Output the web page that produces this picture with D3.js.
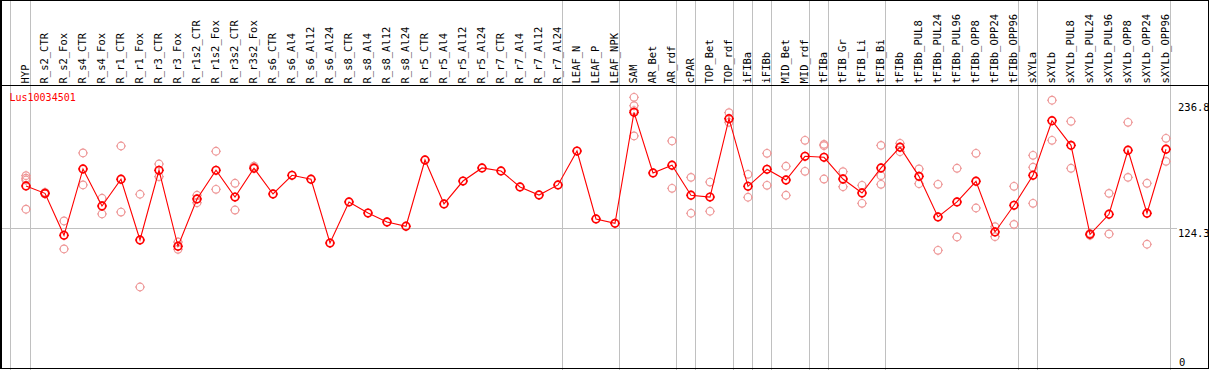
<!DOCTYPE html>
<html>
<head>
<meta charset="utf-8">
<script src="https://cdn.jsdelivr.net/npm/d3@7"></script>
<style>
  html, body { margin: 0; padding: 0; background: #fff; }
  svg { display: block; }
</style>
</head>
<body>
<svg id="chart" width="1209" height="370"></svg>
<script>
// ---------- data ----------
const geneName = "Lus10034501";

const categories = [
  "HYP","R_s2_CTR","R_s2_Fox","R_s4_CTR","R_s4_Fox","R_r1_CTR","R_r1_Fox","R_r3_CTR","R_r3_Fox",
  "R_r1s2_CTR","R_r1s2_Fox","R_r3s2_CTR","R_r3s2_Fox","R_s6_CTR","R_s6_Al4","R_s6_Al12","R_s6_Al24",
  "R_s8_CTR","R_s8_Al4","R_s8_Al12","R_s8_Al24","R_r5_CTR","R_r5_Al4","R_r5_Al12","R_r5_Al24",
  "R_r7_CTR","R_r7_Al4","R_r7_Al12","R_r7_Al24","LEAF_N","LEAF_P","LEAF_NPK","SAM","AR_Bet","AR_rdf",
  "cPAR","TOP_Bet","TOP_rdf","iFIBa","iFIBb","MID_Bet","MID_rdf","tFIBa","tFIB_Gr","tFIB_Li","tFIB_Bi",
  "tFIBb","tFIBb_PUL8","tFIBb_PUL24","tFIBb_PUL96","tFIBb_OPP8","tFIBb_OPP24","tFIBb_OPP96",
  "sXYLa","sXYLb","sXYLb_PUL8","sXYLb_PUL24","sXYLb_PUL96","sXYLb_OPP8","sXYLb_OPP24","sXYLb_OPP96"
];

const meanValues = [
  161.6,155.0,117.5,176.8,143.7,167.6,113.3,175.6,107.7,
  150.0,175.6,151.7,177.4,154.4,171.1,167.6,110.6,
  147.3,137.4,129.4,125.6,184.8,145.5,166.0,177.7,
  175.0,160.7,153.5,162.5,192.8,132.1,128.2,227.4,173.2,180.1,
  153.3,151.7,221.7,161.3,176.5,166.9,188.1,187.2,167.8,155.3,177.7,
  196.2,170.2,133.9,147.3,165.8,120.5,144.3,
  171.1,219.9,197.9,118.4,136.3,193.5,137.2,194.4
];

const replicateValues = [
  [170.8,168.5,166.9,140.8],[155.9,154.4],[130.3,105.3],[191.1,162.5],[150.6,136.6],[197.3,138.3],[154.2,71.3],[181.2,169.9],[111.5,105.0],
  [153.3,146.6],[192.6,158.6],[164.0,140.1],[179.4,178.3],[],[],[],[],
  [],[],[],[],[],[],[],[],
  [],[],[],[],[],[],[],[240.8,233.3,229.0,206.3],[],[201.8,159.5],
  [169.3,137.2],[165.1,139.0],[227.1,218.5],[172.0,151.5],[190.8,162.2],[179.2,153.3],[202.4,174.7],[198.8,197.6,167.8],[174.4,160.9],[162.2,146.1],[197.9,170.8,163.1],
  [199.7,192.2],[176.8,163.6],[163.1,104.1],[177.4,116.0],[190.8,141.9],[125.2,116.3],[161.3,127.3],
  [189.0,178.3,146.1],[238.2,202.4],[219.4,177.4],[119.3,117.5],[155.0,118.7],[218.5,169.3],[164.0,109.5],[204.2,183.6]
];

const groupEnds = ["HYP","R_r7_Al24","LEAF_NPK","AR_rdf","cPAR","TOP_rdf","iFIBa","iFIBb",
                   "MID_rdf","tFIBa","tFIB_Bi","tFIBb_OPP96","sXYLa","sXYLb_OPP96"];

const tickValues = [236.8, 124.3, 0];
const tickLabels = ["236.8", "124.3", "0"];
const gridValue = 124.3;

// ---------- layout ----------
const W = 1209, H = 370;
const headerY = 85.5;
const FONT = "'DejaVu Sans Mono', monospace";
const meanColor = "#ff0000";
const repColor = "#ee9898";
const gridColor = "#c0c0c0";

const svg = d3.select("#chart");

const x = d3.scalePoint().domain(categories).range([26, 26 + 19 * (categories.length - 1)]);
const y = d3.scaleLinear().domain([0, 236.8]).range([366.8, 101.8]);

// vertical separators
const sepXs = [x(categories[0]) - 15.5].concat(groupEnds.map(c => x(c) + 4.5));
svg.append("g").selectAll("line").data(sepXs).join("line")
  .attr("x1", d => d).attr("x2", d => d)
  .attr("y1", 0).attr("y2", H)
  .attr("stroke", gridColor).attr("stroke-width", 1);

// horizontal grid line
svg.append("line")
  .attr("x1", 1).attr("x2", 1177)
  .attr("y1", Math.round(y(gridValue)) + 0.5).attr("y2", Math.round(y(gridValue)) + 0.5)
  .attr("stroke", gridColor).attr("stroke-width", 1);

// header separator and border
svg.append("line").attr("x1", 0).attr("x2", W).attr("y1", headerY).attr("y2", headerY)
  .attr("stroke", "#000").attr("stroke-width", 1);
svg.append("line").attr("x1", 0).attr("x2", 1208.5).attr("y1", 0.5).attr("y2", 0.5).attr("stroke", "#000");
svg.append("line").attr("x1", 1).attr("x2", 1).attr("y1", 0).attr("y2", 369).attr("stroke", "#000").attr("stroke-width", 2);
svg.append("line").attr("x1", 1208.5).attr("x2", 1208.5).attr("y1", 0).attr("y2", 369).attr("stroke", "#000");
svg.append("line").attr("x1", 0).attr("x2", 1209).attr("y1", 368.5).attr("y2", 368.5).attr("stroke", "#000");

// rotated category labels
svg.append("g").selectAll("text").data(categories).join("text")
  .attr("transform", d => `translate(${x(d) + 3},83.5) rotate(-90)`)
  .attr("text-anchor", "start")
  .attr("font-family", FONT).attr("font-size", "10.5px")
  .attr("fill", "#000")
  .text(d => d);

// gene name
svg.append("text").attr("x", 9.5).attr("y", 101)
  .attr("font-family", FONT).attr("font-size", "10px").attr("fill", meanColor)
  .text(geneName);

// right axis labels
svg.append("g").selectAll("text").data(tickValues).join("text")
  .attr("x", (d, i) => tickLabels[i] === "0" ? 1179 : 1178)
  .attr("y", (d, i) => tickLabels[i] === "0" ? 365.5 : y(d) + 1)
  .attr("dominant-baseline", (d, i) => tickLabels[i] === "0" ? "auto" : "hanging")
  .attr("font-family", FONT).attr("font-size", "10.5px").attr("fill", "#000")
  .text((d, i) => tickLabels[i]);

// marker helper
function marker(g, cx, cy, color, sw) {
  g.append("circle").attr("cx", cx).attr("cy", cy).attr("r", 3.8)
    .attr("fill", "none").attr("stroke", color).attr("stroke-width", sw);
  const t = [[0, -1], [0, 1], [-1, 0], [1, 0]];
  t.forEach(([dx, dy]) => {
    g.append("line")
      .attr("x1", cx + dx * 3.8).attr("y1", cy + dy * 3.8)
      .attr("x2", cx + dx * 5.0).attr("y2", cy + dy * 5.0)
      .attr("stroke", color).attr("stroke-width", 1);
  });
}

// replicates
const repG = svg.append("g");
categories.forEach((c, i) => {
  replicateValues[i].forEach(v => marker(repG, x(c), y(v), repColor, 1.2));
});

// mean line
const line = d3.line().x((d, i) => x(categories[i])).y(d => y(d));
svg.append("path").datum(meanValues).attr("d", line)
  .attr("fill", "none").attr("stroke", meanColor).attr("stroke-width", 1.1);

// mean markers
const meanG = svg.append("g");
categories.forEach((c, i) => marker(meanG, x(c), y(meanValues[i]), meanColor, 1.7));
</script>
</body>
</html>
